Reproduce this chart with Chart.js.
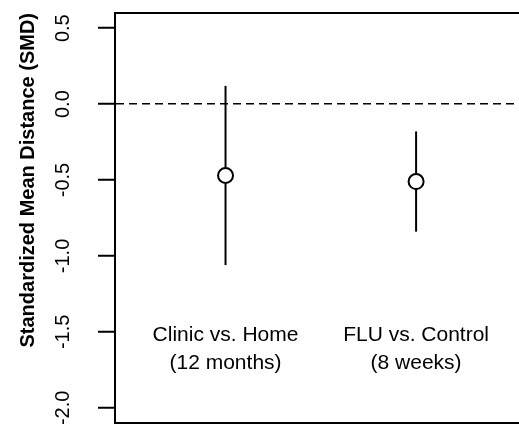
<!DOCTYPE html>
<html>
<head>
<meta charset="utf-8">
<script src="https://cdn.jsdelivr.net/npm/chart.js@4/dist/chart.umd.min.js"></script>
<style>
  html, body { margin: 0; padding: 0; background: #fff; overflow: hidden; }
  #wrap { width: 519px; height: 425px; }
</style>
</head>
<body>
<div id="wrap"><canvas id="myChart" width="519" height="425"></canvas></div>
<script>
// data
var groupPos = [1, 2];
var groupLabels = [["Clinic vs. Home", "(12 months)"], ["FLU vs. Control", "(8 weeks)"]];
var smd = [-0.47, -0.51];
var lower = [-1.06, -0.84];
var upper = [0.12, -0.18];
var yTicks = [-2.0, -1.5, -1.0, -0.5, 0.0, 0.5];
var labelY = -1.52;

var font = "'Liberation Sans', Arial, Helvetica, sans-serif";

var datasets = [];
for (let i = 0; i < groupPos.length; i++)
{
    datasets.push({
        type: 'line',
        data: [{x: groupPos[i], y: lower[i]}, {x: groupPos[i], y: upper[i]}],
        borderColor: '#000',
        borderWidth: 2,
        pointRadius: 0,
        order: 2
    });
}
datasets.push({
    type: 'scatter',
    data: groupPos.map((x, i) => ({x: x, y: smd[i]})),
    pointStyle: 'circle',
    pointRadius: 7.5,
    pointBorderWidth: 2,
    pointBorderColor: '#000',
    pointBackgroundColor: '#fff',
    order: 1
});

// group captions under the bars
const captions = {
    id: 'captions',
    afterDatasetsDraw(chart)
    {
        const ctx = chart.ctx;
        const xs = chart.scales.x, ys = chart.scales.y;
        ctx.save();
        ctx.font = '21px ' + font;
        ctx.fillStyle = '#000';
        ctx.textAlign = 'center';
        ctx.textBaseline = 'middle';
        for (let i = 0; i < groupPos.length; i++)
        {
            const px = xs.getPixelForValue(groupPos[i]);
            const py = ys.getPixelForValue(labelY);
            groupLabels[i].forEach((t, j) => ctx.fillText(t, px, py + j * 28));
        }
        ctx.restore();
    }
};

function flatX(s)
{
    s.height = 0;
    s.paddingLeft = 0;
    s.paddingRight = 0;
}

var ctx = document.getElementById("myChart");
var myChart = new Chart(ctx, {
    data: { datasets: datasets },
    plugins: [captions],
    options: {
        responsive: false,
        animation: false,
        events: [],
        layout: { autoPadding: false, padding: { top: 13, bottom: 2, left: 0, right: 0 } },
        plugins: { legend: { display: false }, tooltip: { enabled: false } },
        scales: {
            x: {
                type: 'linear', position: 'bottom',
                min: 0.42, max: 2.54,
                afterFit: flatX,
                ticks: { display: false },
                grid: { display: false },
                border: { display: true, color: '#000', width: 2 }
            },
            x2: {
                type: 'linear', position: 'top',
                min: 0.42, max: 2.54,
                afterFit: flatX,
                ticks: { display: false },
                grid: { display: false },
                border: { display: true, color: '#000', width: 2 }
            },
            y: {
                type: 'linear', position: 'left',
                min: -2.1, max: 0.6,
                afterBuildTicks: (s) => { s.ticks = yTicks.map(v => ({value: v})); },
                afterFit: (s) => { s.width = 115; s.paddingTop = 0; s.paddingBottom = 0; },
                ticks: {
                    minRotation: 90, maxRotation: 90,
                    crossAlign: 'center',
                    padding: 17,
                    color: '#000',
                    font: { family: font, size: 20 },
                    callback: (v) => Number(v).toFixed(1)
                },
                grid: {
                    drawOnChartArea: true,
                    drawTicks: true,
                    tickLength: 17,
                    tickColor: '#000',
                    tickWidth: 2,
                    lineWidth: 1.5,
                    color: (c) => (c.tick && c.tick.value === 0) ? '#000' : 'rgba(0,0,0,0)'
                },
                border: { display: true, color: '#000', width: 2, dash: [8, 5] },
                title: {
                    display: true,
                    text: 'Standardized Mean Distance (SMD)',
                    align: 'end',
                    color: '#000',
                    font: { family: font, size: 20, weight: 'bold' },
                    padding: { top: 16, bottom: 0 }
                }
            }
        }
    }
});
</script>
</body>
</html>
